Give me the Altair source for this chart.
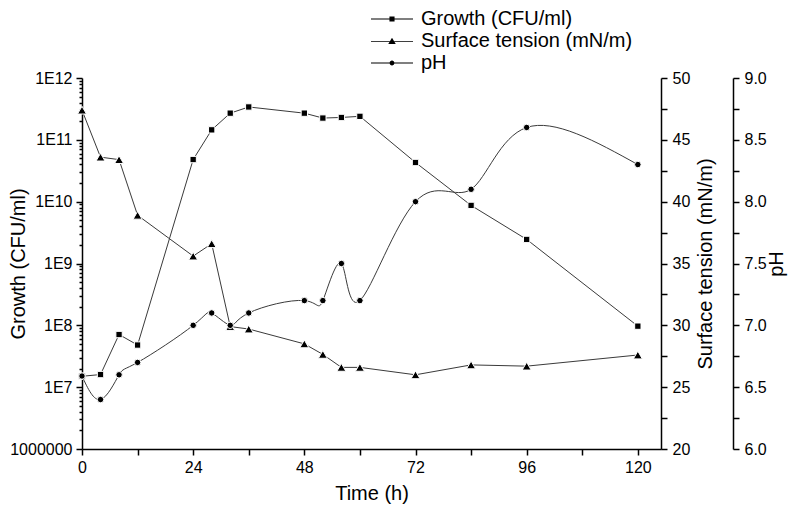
import altair as alt
import pandas as pd

# ---- data ----
time_h = [0, 4, 8, 12, 24, 28, 32, 36, 48, 52, 56, 60, 72, 84, 96, 120]
growth_cfu = [1.5e7, 1.6e7, 7.1e7, 4.8e7, 4.8e10, 1.45e11, 2.7e11, 3.4e11,
              2.7e11, 2.25e11, 2.3e11, 2.4e11, 4.3e10, 8.7e9, 2.45e9, 9.7e7]
surface_tension = [47.4, 43.6, 43.4, 38.9, 35.6, 36.6, 29.9, 29.7,
                   28.5, 27.65, 26.6, 26.6, 26.0, 26.8, 26.7, 27.6]
ph_values = [6.59, 6.4, 6.6, 6.7, 7.0, 7.1, 7.0, 7.1,
             7.2, 7.2, 7.5, 7.2, 8.0, 8.1, 8.6, 8.3]
series_names = ["Growth (CFU/ml)", "Surface tension (mN/m)", "pH"]

# ---- axis tick values ----
x_ticks = list(range(0, 121, 12))
growth_major = [10.0 ** e for e in range(6, 13)]
growth_minor = [m * 10.0 ** e for e in range(6, 12) for m in range(2, 10)]
st_ticks = [20 + 2.5 * i for i in range(13)]
ph_ticks = [6 + 0.25 * i for i in range(13)]

df = pd.DataFrame({
    "time": time_h,
    "growth": growth_cfu,
    "st": surface_tension,
    "ph": ph_values,
    "series": series_names[0],
})

FONT = "Liberation Sans"
LINE = "#3a3a3a"

# legend symbols: a thin bar (the line) through the marker
legend_paths = [
    "M-7,-0.15H7V0.15H-7ZM-0.85,-0.85H0.85V0.85H-0.85Z",
    "M-7,0.05H7V0.35H-7ZM0,-1.1L1.25,1L-1.25,1Z",
    "M-7,-0.15H7V0.15H-7ZM0.8,0A0.8,0.8,0,1,1,-0.8,0A0.8,0.8,0,1,1,0.8,0Z",
]

x_enc = alt.X(
    "time:Q",
    scale=alt.Scale(domain=[0, 125], nice=False, zero=False),
    axis=alt.Axis(values=x_ticks, format="d",
                  labelExpr="datum.value % 24 == 0 ? datum.label : ''",
                  title="Time (h)", tickSize=6, labelPadding=4,
                  titlePadding=8, labelFlush=False, labelOverlap=False),
)

growth_scale = alt.Scale(type="log", domain=[1e6, 1e12], nice=False)

y_growth = alt.Y(
    "growth:Q", scale=growth_scale,
    axis=alt.Axis(
        orient="left", values=growth_major, tickSize=6,
        labelExpr="datum.value < 2000000 ? '1000000' : '1E' + round(log(datum.value)/LN10)",
        title="Growth (CFU/ml)", labelPadding=4, titleX=-54,
        labelOverlap=False, labelFlush=False,
    ),
)
y_growth_minor = alt.Y(
    "growth:Q", scale=growth_scale,
    axis=alt.Axis(orient="left", values=growth_minor, tickSize=3,
                  labels=False, domain=False, title=None),
)
y_growth_noaxis = alt.Y("growth:Q", scale=growth_scale, axis=None)

y_st = alt.Y(
    "st:Q",
    scale=alt.Scale(domain=[20, 50], nice=False, zero=False),
    axis=alt.Axis(
        orient="right", values=st_ticks, format=".0f",
        labelExpr="datum.value % 5 == 0 ? datum.label : ''",
        title="Surface tension (mN/m)", titleAngle=270, titleBaseline="top",
        tickSize=6, labelPadding=5, titlePadding=6,
        labelOverlap=False, labelFlush=False,
    ),
)

y_ph = alt.Y(
    "ph:Q",
    scale=alt.Scale(domain=[6, 9], nice=False, zero=False),
    axis=alt.Axis(
        orient="right", offset=72, values=ph_ticks, format=".1f",
        labelExpr="datum.value % 0.5 == 0 ? datum.label : ''",
        title="pH", titleAngle=270, titleBaseline="top",
        tickSize=6, labelPadding=5, titlePadding=0,
        labelOverlap=False, labelFlush=False,
    ),
)

base = alt.Chart(df)

growth_line = base.mark_line(color=LINE, strokeWidth=1).encode(x=x_enc, y=y_growth)
growth_minor = base.mark_point(opacity=0).encode(
    x=x_enc, y=y_growth_minor).transform_filter("false")
growth_pts = base.mark_point(shape="square", filled=True, color="black", size=40,
                             stroke="white", strokeWidth=1, opacity=1).encode(
    x=x_enc, y=y_growth_noaxis)
legend_layer = base.mark_point(filled=True, color="black").encode(
    x=x_enc, y=y_growth_noaxis,
    shape=alt.Shape("series:N",
                    scale=alt.Scale(domain=series_names, range=legend_paths),
                    legend=alt.Legend(
                        title=None, orient="none", legendX=300, legendY=-69,
                        symbolSize=36, symbolFillColor="black",
                        symbolStrokeWidth=0, symbolOpacity=1,
                        labelOffset=19, labelFontSize=20,
                        labelFont=FONT, labelColor="black", rowPadding=2,
                        padding=0, labelLimit=400,
                    )),
).transform_filter("false")

st_line = base.mark_line(color=LINE, strokeWidth=1).encode(x=x_enc, y=y_st)
st_pts = base.mark_point(shape="triangle-up", filled=True, color="black", size=80,
                         stroke="white", strokeWidth=1, opacity=1).encode(x=x_enc, y=y_st)

ph_line = base.mark_line(color=LINE, strokeWidth=1, interpolate="natural").encode(x=x_enc, y=y_ph)
ph_pts = base.mark_point(shape="circle", filled=True, color="black", size=42,
                         stroke="white", strokeWidth=1, opacity=1).encode(x=x_enc, y=y_ph)

growth_group = alt.layer(growth_line, growth_minor, growth_pts, legend_layer).resolve_axis(
    y="independent")
st_group = alt.layer(st_line, st_pts)
ph_group = alt.layer(ph_line, ph_pts)

chart = alt.layer(growth_group, st_group, ph_group).resolve_scale(
    y="independent"
).properties(
    width=579, height=371,
    autosize=alt.AutoSizeParams(type="none"),
    padding={"left": 74, "top": 70, "right": 128, "bottom": 55},
    background="white",
).configure_view(
    stroke=None
).configure_axis(
    grid=False, domainColor="black", domainWidth=1.5, tickColor="black",
    tickWidth=1.5, labelColor="black", titleColor="black",
    labelFont=FONT, titleFont=FONT, labelFontSize=16, titleFontSize=20,
    titleFontWeight="normal",
)

chart.save("out.html", embed_options={"renderer": "svg", "actions": False})
